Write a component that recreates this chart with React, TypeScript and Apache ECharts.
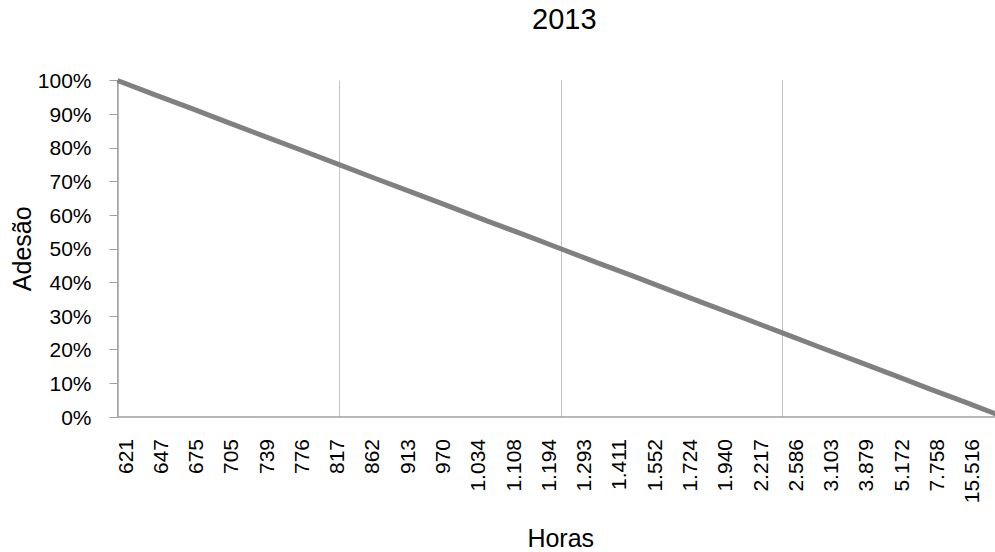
import React, { useEffect, useRef } from "react";
import * as echarts from "echarts";

const hours = [
  "621", "647", "675", "705", "739", "776", "817", "862", "913", "970",
  "1.034", "1.108", "1.194", "1.293", "1.411", "1.552", "1.724", "1.940",
  "2.217", "2.586", "3.103", "3.879", "5.172", "7.758", "15.516",
];

const adesao = [
  100, 95.8, 91.7, 87.5, 83.3, 79.2, 75, 70.8, 66.7, 62.5, 58.3, 54.2, 50,
  45.8, 41.7, 37.5, 33.3, 29.2, 25, 20.8, 16.7, 12.5, 8.3, 4.2, 0,
];

const titleText = "2013";
const yName = "Adesão";
const xName = "Horas";

const FONT = "Liberation Sans, Arial, sans-serif";

export default function App() {
  const ref = useRef<HTMLDivElement>(null);

  useEffect(() => {
    if (!ref.current) return;
    const chart = echarts.init(ref.current, null, { renderer: "svg" });
    chart.setOption({
      animation: false,
      backgroundColor: "#ffffff",
      title: {
        text: titleText,
        left: 532,
        top: 4,
        padding: 0,
        textStyle: { fontFamily: FONT, fontSize: 29, fontWeight: "normal", color: "#000" },
      },
      grid: [
        { left: 117.5, right: -9, top: 80.5, bottom: 135, containLabel: false, outerBoundsMode: "none" },
        { left: 107.4, right: 5.7, top: 80.5, bottom: 135, containLabel: false, outerBoundsMode: "none" },
      ],
      xAxis: [
        {
          type: "category",
          gridIndex: 0,
          data: hours,
          boundaryGap: false,
          axisLine: { show: true, lineStyle: { color: "#a0a0a0", width: 1.5 } },
          axisTick: { show: false },
          axisLabel: { show: false },
          splitLine: { show: true, interval: 5, lineStyle: { color: "#c4c4c4", width: 1 } },
          name: xName,
          nameLocation: "middle",
          nameGap: 108,
          nameMoveOverlap: false,
          nameTextStyle: { fontFamily: FONT, fontSize: 25, color: "#000" },
        },
        {
          type: "category",
          gridIndex: 1,
          data: hours,
          boundaryGap: true,
          axisLine: { show: false },
          axisTick: { show: false },
          splitLine: { show: false },
          axisLabel: {
            show: true,
            interval: 0,
            rotate: 90,
            margin: 22,
            fontFamily: FONT,
            fontSize: 21,
            color: "#000",
          },
        },
      ],
      yAxis: [
        {
          type: "value",
          gridIndex: 0,
          min: 0,
          max: 100,
          interval: 10,
          axisLine: { show: true, lineStyle: { color: "#a0a0a0", width: 1.5 } },
          axisTick: { show: true, length: 8, lineStyle: { color: "#a0a0a0" } },
          splitLine: { show: false },
          axisLabel: {
            formatter: "{value}%",
            margin: 26,
            fontFamily: FONT,
            fontSize: 21,
            color: "#000",
          },
          name: yName,
          nameLocation: "middle",
          nameRotate: 90,
          nameGap: 83,
          nameMoveOverlap: false,
          nameTextStyle: { fontFamily: FONT, fontSize: 25, color: "#000" },
        },
        {
          type: "value",
          gridIndex: 1,
          min: 0,
          max: 100,
          show: false,
        },
      ],
      series: [
        {
          type: "line",
          xAxisIndex: 0,
          yAxisIndex: 0,
          data: adesao,
          symbol: "none",
          lineStyle: { color: "#808080", width: 5 },
        },
      ],
    });
    return () => chart.dispose();
  }, []);

  return (
    <div
      ref={ref}
      style={{ position: "fixed", left: 0, top: 0, width: 995, height: 552 }}
    />
  );
}
